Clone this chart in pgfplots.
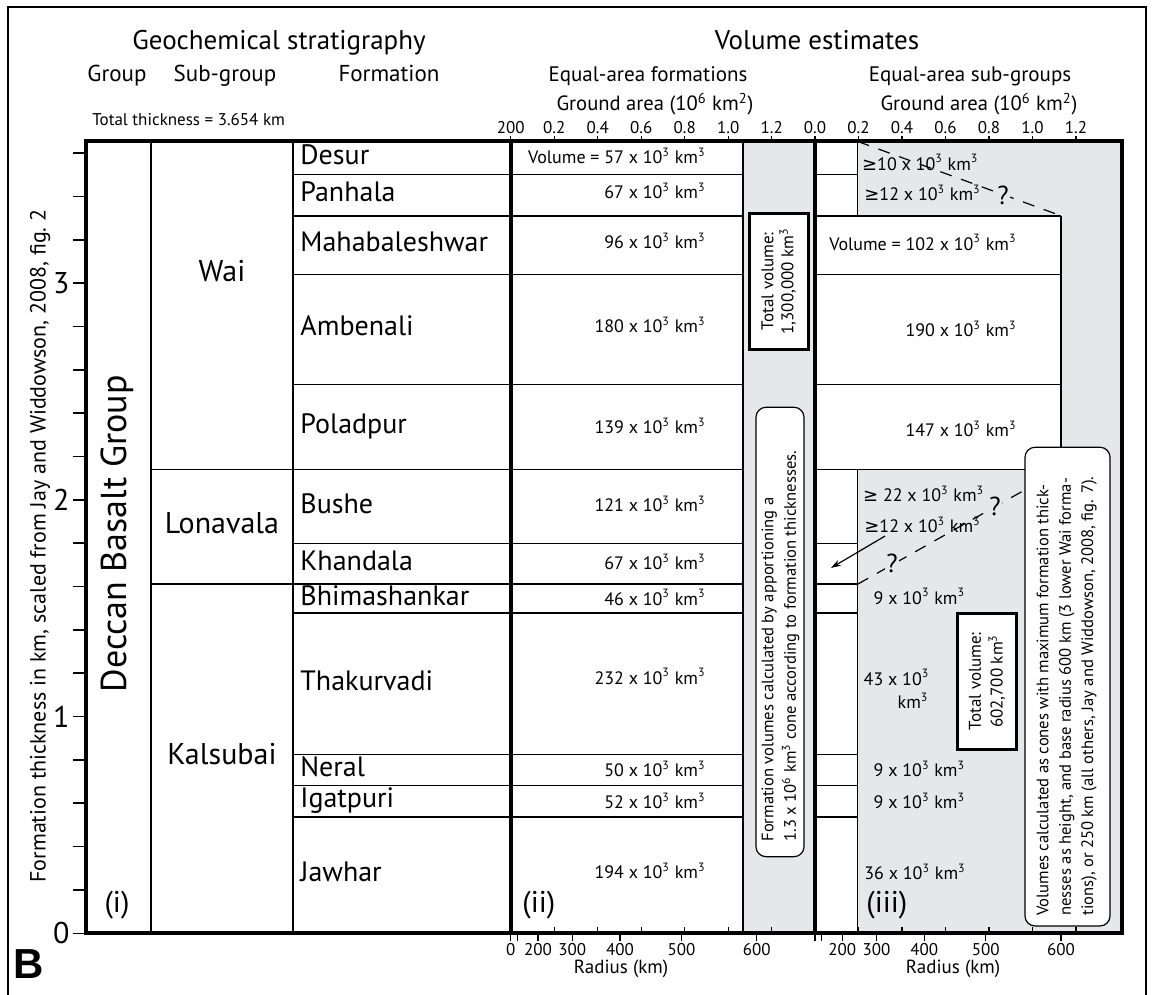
\documentclass[border=0pt]{standalone}
\usepackage{fontspec}
\setmainfont{PT Sans}
\newfontfamily\dv{DejaVu Sans}
\newfontfamily\arialf{Liberation Sans}
\usepackage{pgfplots}
\pgfplotsset{compat=1.18}
\usetikzlibrary{arrows.meta}
\definecolor{gry}{RGB}{230,231,232}
\newcommand{\Y}[1]{(933.3-#1)/216.7}
\newcommand{\fs}[2]{\fontsize{#1}{#2}\selectfont}
\newcommand{\kk}{ x 10\textsuperscript{3} km\textsuperscript{3}}
\tikzset{
  ln/.style={black, line width=0.75pt},
  thk/.style={black, line width=2pt},
  fm/.style={anchor=west, inner sep=0pt, text height=0.7em, text depth=0pt, font={\fs{14}{14}}},
  vl/.style={inner sep=0pt, text height=0.7em, text depth=0pt, font={\fs{9}{9}}},
  hd/.style={inner sep=0pt, text height=0.7em, text depth=0pt},
}
\pgfplotsset{geom/.style={scale only axis, width=517.85pt, height=395.9pt,
  xmin=86, xmax=1121.7, ymin=0, ymax=3.654}}
\begin{document}
\begin{tikzpicture}
\begin{axis}[geom, clip=false, axis on top,
  axis line style={line width=2pt},
  xtick=\empty, ytick={0,1,2,3},
  minor ytick={0.2,0.4,0.6,0.8,1.2,1.4,1.6,1.8,2.2,2.4,2.6,2.8,3.2,3.4,3.6},
  ytick pos=left, tick align=outside,
  major tick length=6.5pt, minor tick length=6.5pt,
  tick style={line width=0.75pt, black},
  yticklabel style={font={\fs{15}{15}}, inner sep=1.5pt},
  /pgf/number format/assume math mode=true]
% shaded regions
\addplot[fill=gry, draw=none] coordinates {(742.8,0) (815,0) (815,3.654) (742.8,3.654)} -- cycle;
\addplot[fill=gry, draw=none] coordinates {(857.7,0) (1121.7,0) (1121.7,3.654) (857.7,3.654)} -- cycle;
\addplot[fill=white, draw=none] coordinates {(857.7,2.140) (1061,2.140) (1061,3.311) (857.7,3.311)} -- cycle;
% formation boundaries (km)
\pgfplotsinvokeforeach{0.537,0.681,0.824,1.479,1.611,1.798,2.140,2.533,3.041,3.311,3.502}{
  \addplot[ln] coordinates {(293,#1) (742.8,#1)};
  \addplot[ln] coordinates {(815,#1) (857.7,#1)};
}
\pgfplotsinvokeforeach{2.140,2.533,3.041,3.311}{
  \addplot[ln] coordinates {(857.7,#1) (1061,#1)};
}
\addplot[ln] coordinates {(151,2.140) (293,2.140)};
\addplot[ln] coordinates {(151,1.611) (293,1.611)};
\addplot[ln] coordinates {(151,0) (151,3.654)};
\addplot[ln] coordinates {(293,0) (293,3.654)};
\addplot[ln] coordinates {(742.8,0) (742.8,3.654)};
\addplot[ln] coordinates {(857.7,0) (857.7,2.140)};
\addplot[ln] coordinates {(857.7,3.311) (857.7,3.654)};
\addplot[ln] coordinates {(1061,2.140) (1061,3.311)};
% dashed cone outlines
\addplot[black, line width=0.6pt, dash pattern=on 6pt off 5pt] coordinates {(857.7,3.654) (1061,3.311)};
\addplot[black, line width=0.6pt, dash pattern=on 6pt off 5pt] coordinates {(857.7,1.611) (1061,2.140)};
\addplot[black, line width=0.6pt, -{Stealth[length=5pt,width=3.2pt]}] coordinates {(885,1.833) (831,1.686)};
% thick panel separators
\addplot[thk] coordinates {(510.7,0) (510.7,3.654)};
\addplot[thk] coordinates {(815,0) (815,3.654)};

% question marks
\node[fill=gry, inner sep=0.6pt, font={\fs{13}{13}}] at (1003,{\Y{195}}) {?};
\node[fill=gry, inner sep=0.6pt, font={\fs{13}{13}}] at (995,{\Y{506}}) {?};
\node[fill=gry, inner sep=0.6pt, font={\fs{13}{13}}] at (892,{\Y{563}}) {?};

% formation names
\node[fm] at (300,{\Y{158}}) {Desur};
\node[fm] at (300,{\Y{195}}) {Panhala};
\node[fm] at (300,{\Y{245}}) {Mahabaleshwar};
\node[fm] at (300,{\Y{329}}) {Ambenali};
\node[fm] at (300,{\Y{427}}) {Poladpur};
\node[fm] at (300,{\Y{506.7}}) {Bushe};
\node[fm] at (300,{\Y{564}}) {Khandala};
\node[fm] at (300,{\Y{598.5}}) {Bhimashankar};
\node[fm] at (300,{\Y{683.7}}) {Thakurvadi};
\node[fm] at (300,{\Y{770}}) {Neral};
\node[fm] at (300,{\Y{801}}) {Igatpuri};
\node[fm] at (300,{\Y{875}}) {Jawhar};
% sub-groups
\node[hd, font={\fs{15}{15}}] at (222,{\Y{275}}) {Wai};
\node[hd, font={\fs{15}{15}}] at (222,{\Y{527}}) {Lonavala};
\node[hd, font={\fs{15}{15}}] at (222,{\Y{758}}) {Kalsubai};
\node[hd, rotate=90, font={\fs{18}{18}}] at (119,{\Y{534}}) {Deccan Basalt Group};

% panel (ii) volumes
\node[vl, anchor=east] at (706,{\Y{156.7}}) {Volume = 57\kk};
\node[vl, anchor=east] at (706,{\Y{192}}) {67\kk};
\node[vl, anchor=east] at (706,{\Y{242}}) {96\kk};
\node[vl, anchor=east] at (706,{\Y{326}}) {180\kk};
\node[vl, anchor=east] at (706,{\Y{427}}) {139\kk};
\node[vl, anchor=east] at (706,{\Y{505}}) {121\kk};
\node[vl, anchor=east] at (706,{\Y{563}}) {67\kk};
\node[vl, anchor=east] at (706,{\Y{598.3}}) {46\kk};
\node[vl, anchor=east] at (706,{\Y{677.3}}) {232\kk};
\node[vl, anchor=east] at (706,{\Y{770}}) {50\kk};
\node[vl, anchor=east] at (706,{\Y{801.7}}) {52\kk};
\node[vl, anchor=east] at (706,{\Y{872}}) {194\kk};

% panel (iii) volumes
\node[vl, anchor=west] at (861.7,{\Y{163.3}}) {{\dv ≥}10\kk};
\node[vl, anchor=west] at (864,{\Y{194}}) {{\dv ≥}12\kk};
\node[vl, anchor=east] at (1017,{\Y{243.3}}) {Volume = 102\kk};
\node[vl, anchor=east] at (1017,{\Y{330}}) {190\kk};
\node[vl, anchor=east] at (1017,{\Y{430}}) {147\kk};
\node[vl, anchor=west] at (862.7,{\Y{495}}) {{\dv ≥} 22\kk};
\node[vl, anchor=west] at (864,{\Y{526}}) {{\dv ≥}12\kk};
\node[vl, anchor=west] at (873.3,{\Y{597.3}}) {9\kk};
\node[vl, anchor=west] at (863.3,{\Y{678.3}}) {43 x 10\textsuperscript{3}};
\node[vl, anchor=west] at (897.3,{\Y{701.7}}) {km\textsuperscript{3}};
\node[vl, anchor=west] at (873.3,{\Y{770}}) {9\kk};
\node[vl, anchor=west] at (873.3,{\Y{801.7}}) {9\kk};
\node[vl, anchor=west] at (864,{\Y{872.7}}) {36\kk};

% panel labels
\node[hd, font={\fs{15}{15}}] at (117,{\Y{906}}) {(i)};
\node[hd, font={\fs{15}{15}}, anchor=west] at (522,{\Y{906}}) {(ii)};
\node[hd, font={\fs{15}{15}}, anchor=west] at (866,{\Y{906}}) {(iii)};

% boxes panel (ii)
\draw[line width=1.25pt, fill=white] (749.3,{\Y{213.3}}) rectangle (808.3,{\Y{349.3}});
\node[rotate=90, align=center, inner sep=0pt, font={\fs{8.5}{10}}] at (778.8,{\Y{281.3}}) {Total volume:\\1,300,000 km\textsuperscript{3}};
\draw[line width=0.6pt, fill=white, rounded corners=5pt] (756,{\Y{407.3}}) rectangle (804,{\Y{856.7}});
\node[rotate=90, anchor=west, align=left, inner sep=0pt, font={\fs{8.3}{11.2}}] at (780.5,{\Y{842}}) {Formation volumes calculated by apportioning a\\1.3 x 10\textsuperscript{6} km\textsuperscript{3} cone according to formation thicknesses.};
% boxes panel (iii)
\draw[line width=1.25pt, fill=white] (957.3,{\Y{613.3}}) rectangle (1016.7,{\Y{749.3}});
\node[rotate=90, align=center, inner sep=0pt, font={\fs{8.5}{10.8}}] at (987,{\Y{681.3}}) {Total volume:\\602,700 km\textsuperscript{3}};
\draw[line width=0.6pt, fill=white, rounded corners=5pt] (1025,{\Y{447.3}}) rectangle (1110,{\Y{926}});
\node[rotate=90, anchor=west, align=left, inner sep=0pt, font={\fs{8.3}{11.2}}] at (1066.7,{\Y{916}}) {Volumes calculated as cones with maximum formation thick-\\nesses as height, and base radius 600 km (3 lower Wai forma-\\tions), or 250 km (all others, Jay and Widdowson, 2008, fig. 7).};

% headers
\node[hd, font={\fs{13.5}{13.5}}] at (279,{\Y{43}}) {Geochemical stratigraphy};
\node[hd, font={\fs{13.5}{13.5}}] at (817,{\Y{43}}) {Volume estimates};
\node[hd, font={\fs{11.5}{11.5}}] at (117,{\Y{75}}) {Group};
\node[hd, font={\fs{11.5}{11.5}}] at (225,{\Y{75}}) {Sub-group};
\node[hd, font={\fs{11.5}{11.5}}] at (389,{\Y{75}}) {Formation};
\node[hd, font={\fs{10.5}{10.5}}] at (648,{\Y{75}}) {Equal-area formations};
\node[hd, font={\fs{10.5}{10.5}}] at (970,{\Y{75}}) {Equal-area sub-groups};
\node[hd, font={\fs{10.3}{10.3}}] at (655,{\Y{104}}) {Ground area (10\textsuperscript{6} km\textsuperscript{2})};
\node[hd, font={\fs{10.3}{10.3}}] at (979,{\Y{104}}) {Ground area (10\textsuperscript{6} km\textsuperscript{2})};
\node[hd, font={\fs{8.5}{8.5}}, anchor=west] at (92,{\Y{119}}) {Total thickness = 3.654 km};
\node[hd, font={\fs{9.5}{9.5}}] at (621,{\Y{967}}) {Radius (km)};
\node[hd, font={\fs{9.5}{9.5}}] at (953,{\Y{967}}) {Radius (km)};
\node[hd, rotate=90, font={\fs{11}{11}}] at (38.5,{\Y{546}}) {Formation thickness in km, scaled from Jay and Widdowson, 2008, fig.~2};
\node[hd, font={\arialf\bfseries\fs{21}{21}}] at (29,{\Y{972}}) {B};
% outer frame
\draw[line width=0.75pt] (8,{\Y{1010}}) -- (8,{\Y{7}}) -- (1146,{\Y{7}}) -- (1146,{\Y{1010}});
\coordinate (BL) at (0,{\Y{995}});
\coordinate (TR) at (1154,{\Y{0}});
\end{axis}
% top ticks: ground area
\begin{axis}[geom, axis line style={draw=none}, ytick=\empty,
  xtick pos=right, xticklabel pos=right, tick align=outside, major tick length=2.5pt,
  xtick={510.7,554.2,597.7,641.2,684.7,728.2,771.7,815,858.5,902,945.5,989,1032.5,1076},
  xticklabels={200,0.2,0.4,0.6,0.8,1.0,1.2,0.0,0.2,0.4,0.6,0.8,1.0,1.2},
  xticklabel style={font={\fs{8.5}{8.5}}, inner sep=1pt},
  tick style={line width=0.6pt, black}]
\end{axis}
% bottom ticks: radius
\begin{axis}[geom, axis line style={draw=none}, ytick=\empty,
  xtick pos=left, xticklabel pos=left, tick align=outside, major tick length=4pt,
  xtick={510.7,517.5,538.0,572.2,620.0,681.5,756.7,815,821.8,842.3,876.5,924.3,985.8,1061.0},
  xticklabels={0,,200,300,400,500,600,,,200,300,400,500,600},
  xticklabel style={font={\fs{8.5}{8.5}}, inner sep=1pt},
  tick style={line width=0.6pt, black}]
\end{axis}
% bottom ticks: ground area (inward)
\begin{axis}[geom, axis line style={draw=none}, ytick=\empty,
  xtick pos=left, tick align=inside, major tick length=3pt,
  xtick={554.2,597.7,641.2,684.7,728.2,771.7,858.5,902,945.5,989,1032.5,1076},
  xticklabels={},
  tick style={line width=0.6pt, black}]
\end{axis}
\pgfresetboundingbox
\path (BL) rectangle (TR);
\end{tikzpicture}
\end{document}
